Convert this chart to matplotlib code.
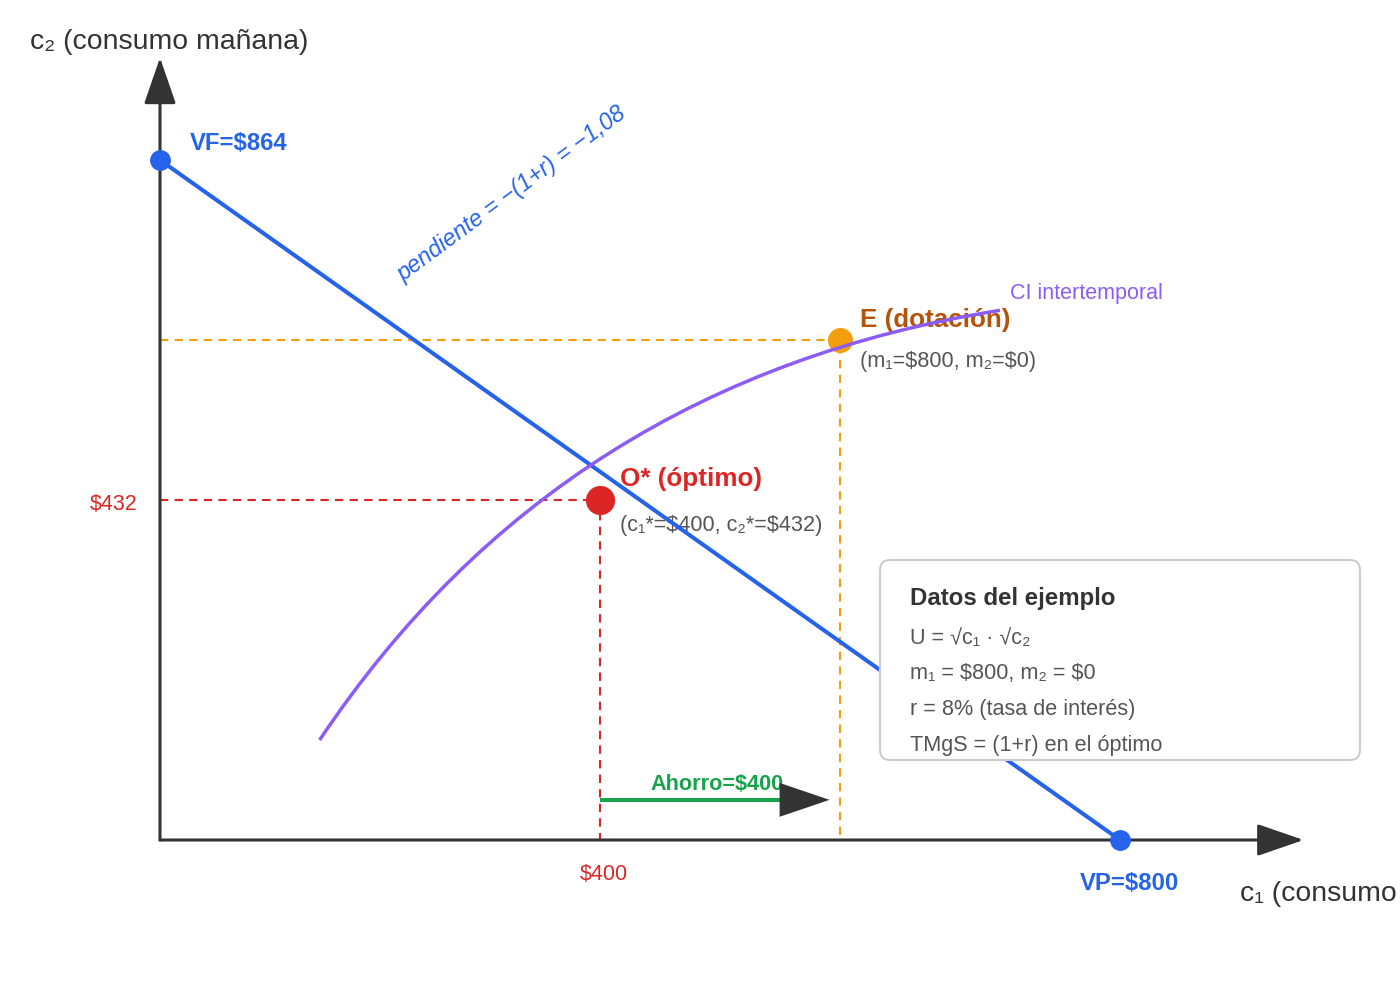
import matplotlib
matplotlib.use('Agg')
import matplotlib.pyplot as plt
from matplotlib.path import Path
from matplotlib.patches import PathPatch, FancyBboxPatch
from matplotlib.transforms import IdentityTransform

plt.rcParams['font.family'] = ['Liberation Sans', 'DejaVu Sans']

# valores del ejemplo
vf = 864            # valor futuro (corte eje c2)
vp = 800            # valor presente (corte eje c1)
opt_vals = [400, 432]
ahorro = 400

# posiciones dibujadas en el esquema
opt_pos = [367, 432]
end_pos = [567, 635]
ci_c1 = [133, 333, 700]     # puntos de control de la curva de indiferencia
ci_c2 = [127, 584, 673]
ahorro_y = 51
ahorro_end = 558
x_axis_end = 953
y_axis_end = 994

datos_lineas = ["U = √c₁ · √c₂", "m₁ = $800, m₂ = $0",
                "r = 8% (tasa de interés)", "TMgS = (1+r) en el óptimo"]

BLUE = '#2563eb'
PURPLE = '#8b5cf6'
ORANGE = '#f59e0b'
RED = '#dc2626'
GREEN = '#16a34a'
DARK = '#333333'
GREY = '#555555'

W, H = 1400, 1000
fig = plt.figure(figsize=(14, 10), dpi=100)
ax = fig.add_axes([0, 0, 1, 1])
ax.set_xlim(-160 / 1.2, 1240 / 1.2)
ax.set_ylim(-160 * 864 / 680, 840 * 864 / 680)
ax.axis('off')


def txt(x, y, s, **kw):
    # texto ubicado en pixeles de la imagen (origen arriba a la izquierda)
    kw.setdefault('va', 'center')
    return ax.text(x, H - y, s, transform=IdentityTransform(),
                   parse_math=False, **kw)


# ejes con flecha
for end in [(x_axis_end, 0), (0, y_axis_end)]:
    ax.annotate('', xy=end, xytext=(0, 0),
                arrowprops=dict(arrowstyle='-|>,head_length=2.9,head_width=1.0',
                                mutation_scale=10, color=DARK, lw=2.2,
                                shrinkA=0, shrinkB=0), zorder=2)

# lineas punteadas
ax.plot([0, end_pos[0], end_pos[0]], [end_pos[1], end_pos[1], 0],
        color=ORANGE, lw=1.5, dashes=(4, 3), zorder=1)
ax.plot([0, opt_pos[0], opt_pos[0]], [opt_pos[1], opt_pos[1], 0],
        color=RED, lw=1.5, dashes=(4, 3), zorder=1)

# recta presupuestaria
ax.plot([0, vp], [vf, 0], color=BLUE, lw=2.9, solid_capstyle='butt', zorder=4)
ax.plot([0, vp], [vf, 0], 'o', color=BLUE, ms=14, zorder=4)

# curva de indiferencia
ci_path = Path(list(zip(ci_c1, ci_c2)), [Path.MOVETO, Path.CURVE3, Path.CURVE3])
ax.add_patch(PathPatch(ci_path, fc='none', ec=PURPLE, lw=2.5, zorder=5))

# puntos E y O*
ax.plot(end_pos[0], end_pos[1], 'o', color=ORANGE, ms=17, zorder=4)
ax.plot(opt_pos[0], opt_pos[1], 'o', color=RED, ms=20, zorder=4)

# ahorro
ax.plot([opt_pos[0], ahorro_end - 30], [ahorro_y, ahorro_y], color=GREEN, lw=2.9,
        solid_capstyle='butt', zorder=4)
ax.annotate('', xy=(ahorro_end, ahorro_y), xytext=(opt_pos[0], ahorro_y),
            arrowprops=dict(arrowstyle='-|>,head_length=3.6,head_width=1.22',
                            mutation_scale=10, color=DARK, lw=0,
                            shrinkA=0, shrinkB=0), zorder=5)

# textos
txt(30, 42, "c₂ (consumo mañana)", fontsize=20.4, color=DARK)
txt(1240, 894, "c₁ (consumo hoy)", fontsize=20.4, color=DARK)
txt(190, 144, f"VF=${vf}", fontsize=17.2, fontweight='bold', color=BLUE)
txt(1080, 884, f"VP=${vp}", fontsize=17.2, fontweight='bold', color=BLUE)
txt(512, 194, "pendiente = −(1+r) = −1,08", fontsize=16.8, color=BLUE,
    fontstyle='italic', rotation=36.5, rotation_mode='anchor', ha='center')
txt(860, 320, "E (dotación)", fontsize=18.7, fontweight='bold', color='#b45309')
txt(860, 361, "(m₁=$800, m₂=$0)", fontsize=15.6, color=GREY)
txt(620, 479, "O* (óptimo)", fontsize=18.7, fontweight='bold', color=RED)
txt(620, 525, f"(c₁*=${opt_vals[0]}, c₂*=${opt_vals[1]})", fontsize=15.6, color=GREY)
txt(138, 504, f"${opt_vals[1]}", fontsize=15.5, color=RED, ha='right')
txt(604, 874, f"${opt_vals[0]}", fontsize=15.5, color=RED, ha='center')
txt(1010, 294, "CI intertemporal", fontsize=15.5, color=PURPLE)
txt(717, 784, f"Ahorro=${ahorro}", fontsize=15.6, fontweight='bold', color=GREEN,
    ha='center')

# recuadro de datos
box = FancyBboxPatch((880, H - 760), 480, 200, boxstyle='round,pad=0,rounding_size=10',
                     transform=IdentityTransform(), fc='white', ec='#cccccc', lw=1.5,
                     zorder=6)
ax.add_patch(box)
t = txt(910, 598, "Datos del ejemplo", fontsize=17.3, fontweight='bold', color=DARK)
t.set_zorder(7)
for i, linea in enumerate(datos_lineas):
    t = txt(910, 638 + 36 * i, linea, fontsize=15.6, color=GREY)
    t.set_zorder(7)

fig.savefig('out.png', dpi=100)
